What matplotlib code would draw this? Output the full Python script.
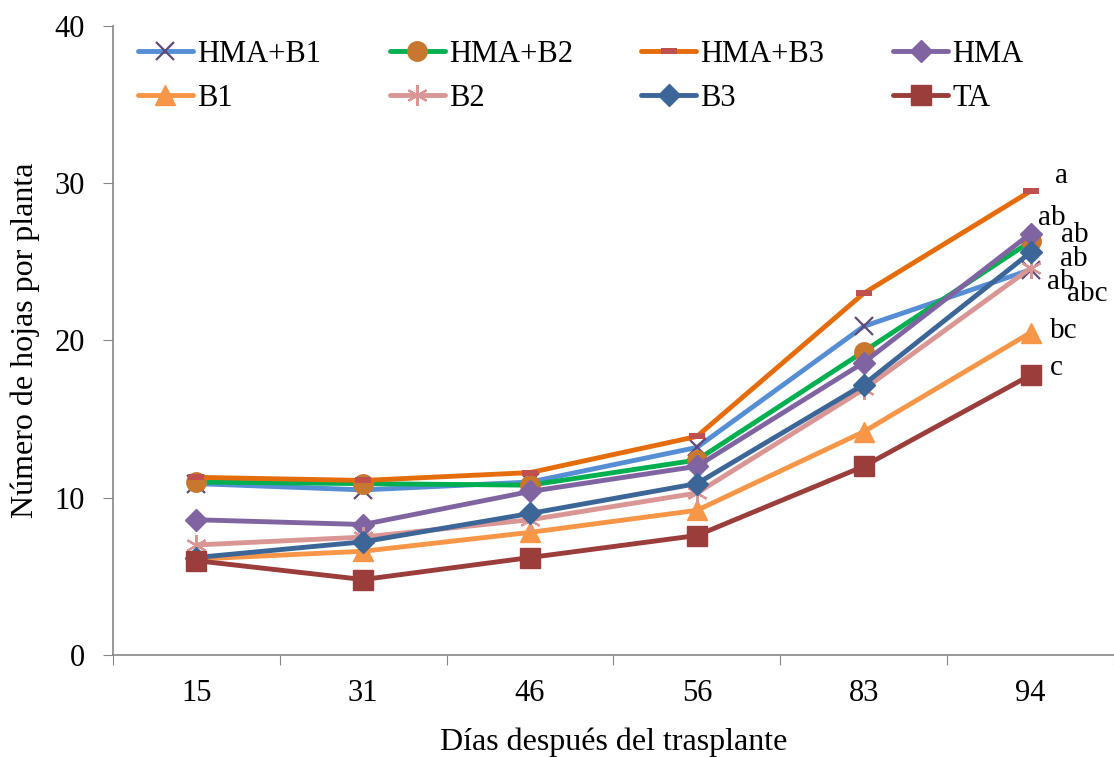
import matplotlib
matplotlib.use("Agg")
import matplotlib.pyplot as plt
import numpy as np
from matplotlib.path import Path

plt.rcParams['font.family'] = ['Liberation Serif', 'DejaVu Serif']

dias = ["15", "31", "46", "56", "83", "94"]

hma_b1 = [10.9, 10.5, 11.0, 13.2, 20.9, 24.5]
hma_b2 = [11.0, 10.9, 10.8, 12.4, 19.3, 26.3]
hma_b3 = [11.3, 11.1, 11.6, 13.9, 23.0, 29.5]
hma    = [8.6, 8.3, 10.4, 12.0, 18.6, 26.8]
b1     = [6.1, 6.6, 7.8, 9.2, 14.2, 20.5]
b2     = [7.0, 7.5, 8.6, 10.3, 16.9, 24.6]
b3     = [6.2, 7.2, 9.0, 10.9, 17.2, 25.6]
ta     = [6.0, 4.8, 6.2, 7.6, 12.0, 17.8]

letras = ["ab", "ab", "a", "ab", "bc", "abc", "ab", "c"]

# rectangulito rojo para HMA+B3
rect = Path([(-1, -0.45), (1, -0.45), (1, 0.45), (-1, 0.45), (-1, -0.45)],
            [Path.MOVETO, Path.LINETO, Path.LINETO, Path.LINETO, Path.CLOSEPOLY])

series = [
    ("HMA+B1", hma_b1, "#558ED5", dict(marker="x", ms=13, mec="#604A7B", mew=1.6)),
    ("HMA+B2", hma_b2, "#00B050", dict(marker="o", ms=14, mfc="#C8772F", mec="#C8772F")),
    ("HMA+B3", hma_b3, "#E46C0A", dict(marker=rect, ms=11, mfc="#C0504D", mec="#C0504D", mew=0)),
    ("HMA", hma, "#8064A2", dict(marker="D", ms=11, mfc="#8064A2", mec="#8064A2")),
    ("B1", b1, "#F79646", dict(marker="^", ms=15, mfc="#F79646", mec="#F79646")),
    ("B2", b2, "#D99694", dict(marker=(6, 2, 0), ms=15, mec="#D99694", mew=1.6)),
    ("B3", b3, "#3C6697", dict(marker="D", ms=11, mfc="#3C6697", mec="#3C6697")),
    ("TA", ta, "#9B3D3B", dict(marker="s", ms=14, mfc="#9B3D3B", mec="#9B3D3B")),
]

# desplazamiento de las letras (pixeles) respecto al ultimo punto
offs = [(30, -12), (44, 6), (31, 15), (21, 16), (33, 2), (57, -26), (43, -7), (26, 7)]

fig = plt.figure(figsize=(11.14, 7.57), dpi=100)
ax = fig.add_axes([0.1014, 0.1347, 0.8986, 0.831])

x = np.arange(len(dias))
handles = []
for (nombre, vals, color, mk), letra, (dx, dy) in zip(series, letras, offs):
    h, = ax.plot(x, vals, color=color, lw=3.5, label=nombre, solid_capstyle="round", **mk)
    handles.append(h)
    ax.annotate(letra, xy=(x[-1], vals[-1]), xytext=(dx, dy), textcoords="offset pixels",
                ha="center", va="center", fontsize=21, annotation_clip=False)

ax.set_xlim(-0.5, 5.5)
ax.set_ylim(0, 40)
ax.set_yticks([0, 10, 20, 30, 40])
ax.set_xticks(np.arange(-0.5, 6.0, 1.0))
ax.set_xticklabels([])
ax.set_xticks(x, minor=True)
ax.set_xticklabels(dias, minor=True)
ax.tick_params(axis="x", which="minor", length=0, labelsize=22, pad=17)
ax.tick_params(axis="x", which="major", length=7, color="#868686")
ax.tick_params(axis="y", length=7, color="#868686", labelsize=22, pad=13)

for s in ["top", "right"]:
    ax.spines[s].set_visible(False)
for s in ["left", "bottom"]:
    ax.spines[s].set_color("#868686")
    ax.spines[s].set_linewidth(1.2)

ax.set_xlabel("Días después del trasplante", fontsize=23, labelpad=14)
ax.set_ylabel("Número de hojas por planta", fontsize=23, labelpad=11)

# leyenda en dos filas de cuatro
orden = [0, 4, 1, 5, 2, 6, 3, 7]
ax.legend([handles[i] for i in orden], [handles[i].get_label() for i in orden],
          ncol=4, frameon=False, fontsize=22, loc="upper left",
          bbox_to_anchor=(0.025, 0.978), handlelength=1.8, handletextpad=0.13,
          columnspacing=2.25, labelspacing=0.5, borderaxespad=0, borderpad=0)

fig.savefig("out.png", dpi=100)
